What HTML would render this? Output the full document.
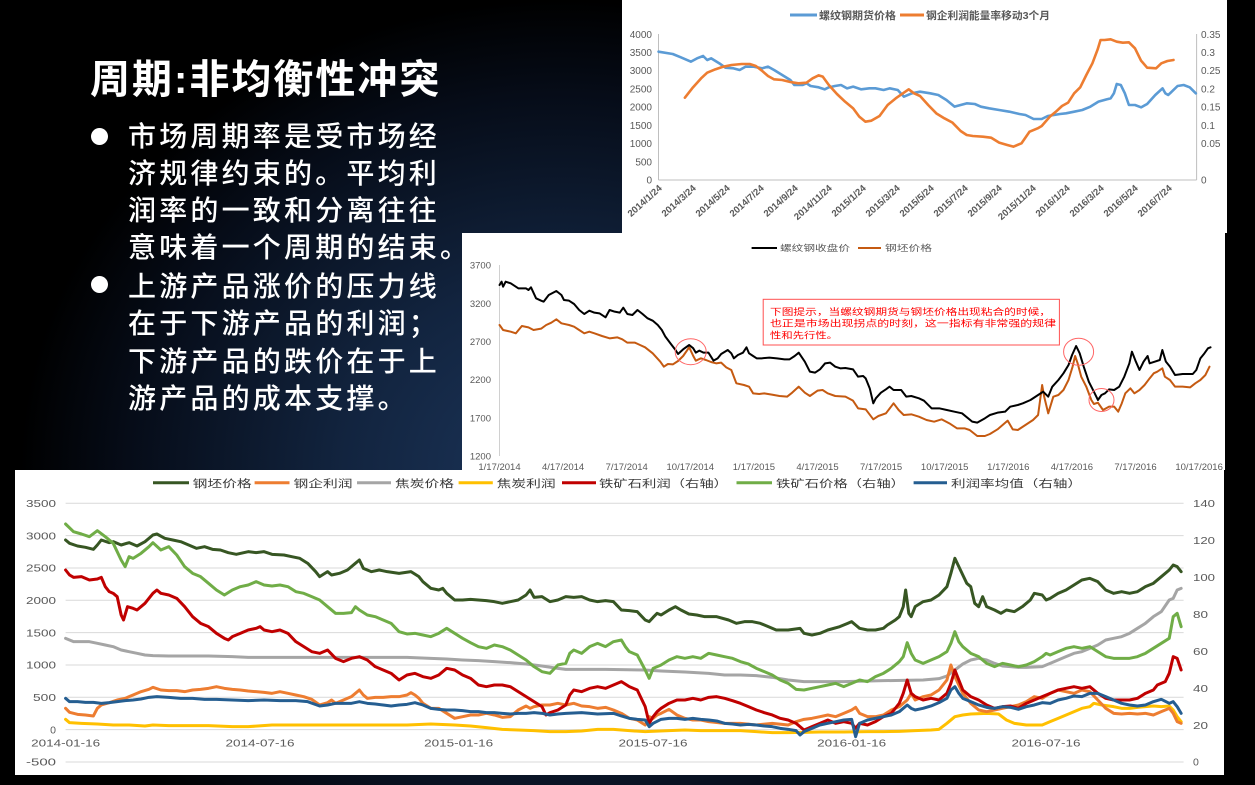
<!DOCTYPE html>
<html><head><meta charset="utf-8">
<style>
html,body{margin:0;padding:0;}
body{width:1255px;height:785px;overflow:hidden;position:relative;
background:#000;
background-image:radial-gradient(ellipse 540px 470px at 560px 470px,#1c355a 0%,#12243f 40%,#060c18 80%,#000 100%);
font-family:"Liberation Sans","Noto Sans CJK SC",sans-serif;}
.t{position:absolute;color:#fff;white-space:nowrap;font-family:"Liberation Sans","Noto Sans CJK SC",sans-serif;}
.title{left:90px;top:60px;font-size:40px;line-height:40px;font-weight:bold;letter-spacing:2px;}
.l{left:128px;font-size:28px;line-height:37px;letter-spacing:3.2px;font-weight:500;}
.dot{position:absolute;width:17px;height:17px;border-radius:50%;background:#fff;left:91px;}
svg{position:absolute;left:0;top:0;}
svg text{font-family:"Liberation Sans","Noto Sans CJK SC",sans-serif;}
.vl{fill:none;vector-effect:non-scaling-stroke;stroke-linejoin:round;stroke-linecap:round;}
</style></head><body>
<div class="t title">周期:非均衡性冲突</div>
<div class="dot" style="top:128px"></div>
<div class="t l" style="top:118px">市场周期率是受市场经</div>
<div class="t l" style="top:155px">济规律约束的。平均利</div>
<div class="t l" style="top:192px">润率的一致和分离往往</div>
<div class="t l" style="top:229px">意味着一个周期的结束。</div>
<div class="dot" style="top:276px"></div>
<div class="t l" style="top:268px">上游产品涨价的压力线</div>
<div class="t l" style="top:305px">在于下游产品的利润；</div>
<div class="t l" style="top:343px">下游产品的跌价在于上</div>
<div class="t l" style="top:380px">游产品的成本支撑。</div>

<svg width="1255" height="785" viewBox="0 0 1255 785">
<!-- ===== TOP RIGHT CHART ===== -->
<rect x="622" y="0" width="605" height="233" fill="#fff"/>
<line x1="790" y1="15" x2="817" y2="15" stroke="#5b9bd5" stroke-width="3"/>
<text x="819" y="19" font-size="10.5" fill="#595959" textLength="77" lengthAdjust="spacingAndGlyphs" font-weight="bold">螺纹钢期货价格</text>
<line x1="900" y1="15" x2="924" y2="15" stroke="#ed7d31" stroke-width="3"/>
<text x="926" y="19" font-size="10.5" fill="#595959" textLength="124" lengthAdjust="spacingAndGlyphs" font-weight="bold">钢企利润能量率移动3个月</text>
<g stroke="#bfbfbf" stroke-width="1">
<line x1="658.5" y1="34" x2="658.5" y2="180"/>
<line x1="1196.6" y1="34" x2="1196.6" y2="180"/>
<line x1="658.5" y1="180" x2="1196.6" y2="180"/>
</g>
<g font-size="10" fill="#595959" text-anchor="end">
<text x="652" y="37.8">4000</text><text x="652" y="56">3500</text><text x="652" y="74.2">3000</text><text x="652" y="92.4">2500</text><text x="652" y="110.6">2000</text><text x="652" y="128.9">1500</text><text x="652" y="147.1">1000</text><text x="652" y="165.3">500</text><text x="652" y="183.5">0</text>
</g>
<g font-size="10" fill="#595959">
<text x="1201" y="37.8">0.35</text><text x="1201" y="56">0.3</text><text x="1201" y="74.2">0.25</text><text x="1201" y="92.4">0.2</text><text x="1201" y="110.6">0.15</text><text x="1201" y="128.9">0.1</text><text x="1201" y="147.1">0.05</text><text x="1201" y="183.5">0</text>
</g>
<g font-size="9.5" fill="#595959" font-weight="bold" text-anchor="end">
<text transform="translate(662.5,189) rotate(-42)">2014/1/24</text>
<text transform="translate(696.5,189) rotate(-42)">2014/3/24</text>
<text transform="translate(730.5,189) rotate(-42)">2014/5/24</text>
<text transform="translate(764.5,189) rotate(-42)">2014/7/24</text>
<text transform="translate(798.5,189) rotate(-42)">2014/9/24</text>
<text transform="translate(832.5,189) rotate(-42)">2014/11/24</text>
<text transform="translate(866.5,189) rotate(-42)">2015/1/24</text>
<text transform="translate(900.5,189) rotate(-42)">2015/3/24</text>
<text transform="translate(934.5,189) rotate(-42)">2015/5/24</text>
<text transform="translate(968.5,189) rotate(-42)">2015/7/24</text>
<text transform="translate(1002.5,189) rotate(-42)">2015/9/24</text>
<text transform="translate(1036.5,189) rotate(-42)">2015/11/24</text>
<text transform="translate(1070.5,189) rotate(-42)">2016/1/24</text>
<text transform="translate(1104.5,189) rotate(-42)">2016/3/24</text>
<text transform="translate(1138.5,189) rotate(-42)">2016/5/24</text>
<text transform="translate(1172.5,189) rotate(-42)">2016/7/24</text>
</g>
<g transform="translate(620,0) scale(0.4055,0.33333)">
<polyline class="vl" stroke="#5b9bd5" stroke-width="2.6" points="95,155 130,162 150,172 175,185 190,175 205,168 215,180 225,175 245,190 260,203 280,205 295,210 310,200 330,200 350,205 365,200 380,210 400,225 420,240 430,255 450,255 460,250 470,258 490,262 505,268 515,262 530,258 545,255 560,265 575,260 595,268 615,265 630,265 650,270 665,265 685,270 700,290 720,280 740,275 765,280 785,285 805,300 825,320 840,315 855,310 875,312 890,320 910,325 935,330 960,335 985,342 1000,345 1020,357 1040,357 1055,348 1070,345 1085,342 1100,340 1120,335 1140,330 1160,320 1180,305 1200,298 1210,295 1218,280 1225,252 1235,255 1245,280 1255,315 1270,315 1285,322 1300,312 1320,285 1338,265 1345,280 1352,285 1358,278 1375,258 1390,255 1405,262 1420,280"/>
<polyline class="vl" stroke="#ed7d31" stroke-width="2.6" points="160,293 180,262 200,235 215,218 235,208 255,200 275,195 300,192 320,192 335,198 350,212 365,228 380,238 400,240 420,246 440,250 460,248 475,235 490,226 500,230 515,255 535,282 555,305 575,325 590,350 605,365 620,362 640,348 660,315 680,295 700,278 712,268 725,280 740,288 760,315 780,340 800,355 820,368 840,393 855,405 870,408 895,410 915,413 935,428 955,435 970,440 990,430 1010,395 1030,385 1040,378 1060,350 1075,335 1090,318 1105,308 1120,280 1135,262 1150,225 1165,190 1178,148 1185,120 1195,120 1210,118 1225,125 1240,128 1255,127 1270,145 1285,182 1300,203 1322,205 1335,190 1350,183 1365,180"/>
</g>

<!-- ===== MIDDLE CHART ===== -->
<rect x="462" y="233" width="763" height="237" fill="#fff"/>
<line x1="751.6" y1="248" x2="777" y2="248" stroke="#000" stroke-width="2"/>
<text x="780" y="251" font-size="8.5" fill="#595959" textLength="70" lengthAdjust="spacingAndGlyphs">螺纹钢收盘价</text>
<line x1="858" y1="248" x2="881" y2="248" stroke="#c55a11" stroke-width="2"/>
<text x="885" y="251" font-size="8.5" fill="#595959" textLength="47" lengthAdjust="spacingAndGlyphs">钢坯价格</text>
<line x1="499.5" y1="265" x2="499.5" y2="456" stroke="#d0d0d0" stroke-width="1"/>
<g font-size="9.5" fill="#595959" text-anchor="end">
<text x="491" y="268.5">3700</text><text x="491" y="306.8">3200</text><text x="491" y="345">2700</text><text x="491" y="383.2">2200</text><text x="491" y="421.4">1700</text><text x="491" y="459.5">1200</text>
</g>
<g font-size="9.5" fill="#595959" text-anchor="middle">
<text x="499.5" y="470">1/17/2014</text><text x="563.1" y="470">4/17/2014</text><text x="626.7" y="470">7/17/2014</text><text x="690.3" y="470">10/17/2014</text><text x="753.9" y="470">1/17/2015</text><text x="817.5" y="470">4/17/2015</text><text x="881.1" y="470">7/17/2015</text><text x="944.7" y="470">10/17/2015</text><text x="1008.3" y="470">1/17/2016</text><text x="1071.9" y="470">4/17/2016</text><text x="1135.5" y="470">7/17/2016</text><text x="1199.1" y="470">10/17/2016</text>
</g>
<g transform="translate(460,230) scale(0.5071,0.33333)">
<polyline class="vl" stroke="#c55a11" stroke-width="2" points="78,285 85,300 100,305 110,310 122,288 135,292 145,300 160,296 170,285 180,278 190,268 200,280 215,285 225,290 235,300 245,310 255,305 265,310 280,318 295,325 310,322 320,328 330,338 345,338 355,345 365,352 380,370 395,395 402,410 410,402 420,403 430,393 440,378 452,352 460,378 465,392 475,385 485,390 495,396 505,400 515,398 525,412 535,420 545,460 560,465 570,470 578,490 590,492 600,490 615,494 630,498 645,500 655,488 668,470 680,488 690,498 705,482 715,480 725,490 740,498 760,500 775,512 785,535 800,538 815,568 825,558 840,550 855,520 865,540 875,555 890,553 905,560 920,570 935,575 950,568 965,580 980,595 995,595 1005,600 1020,618 1035,618 1045,612 1060,598 1080,572 1090,598 1100,600 1115,585 1130,570 1140,555 1148,465 1152,500 1160,550 1170,500 1180,495 1190,480 1200,450 1208,410 1213,378 1218,400 1225,440 1235,470 1245,510 1250,522 1258,518 1268,540 1280,530 1290,530 1298,545 1305,520 1312,490 1322,475 1330,490 1340,480 1350,465 1360,445 1368,430 1375,425 1385,415 1390,440 1400,450 1410,470 1425,470 1440,472 1450,460 1460,450 1470,435 1478,410"/>
<polyline class="vl" stroke="#000" stroke-width="2" points="78,165 82,155 85,170 90,155 100,160 115,175 130,175 135,180 140,172 150,205 160,212 165,215 175,195 190,183 200,195 205,210 215,212 225,222 235,240 245,252 255,242 265,248 275,250 287,262 295,240 305,245 315,248 322,233 330,252 340,255 350,240 360,252 370,265 380,272 390,285 398,300 405,320 415,340 425,360 430,372 440,358 452,345 460,355 465,368 472,362 480,368 490,368 500,392 508,385 515,372 528,360 535,370 540,385 548,375 558,368 565,352 570,370 578,378 585,385 595,385 610,383 625,385 640,388 650,388 660,378 668,368 680,395 690,425 700,428 710,418 720,400 730,398 740,410 750,415 760,414 775,418 785,440 795,438 800,445 808,475 815,520 820,505 830,488 840,478 847,470 855,480 870,480 880,500 890,498 905,505 915,512 930,535 945,535 960,540 975,545 990,550 1010,575 1020,578 1035,565 1045,555 1060,548 1075,545 1085,530 1100,525 1110,520 1125,510 1140,495 1150,485 1160,500 1168,470 1180,450 1190,430 1200,405 1207,375 1215,348 1222,370 1230,410 1240,455 1250,485 1258,510 1265,495 1272,490 1280,478 1290,480 1300,470 1310,440 1320,400 1325,365 1332,392 1340,420 1348,395 1356,378 1360,400 1370,395 1380,390 1385,360 1392,395 1400,410 1410,435 1425,432 1445,432 1452,420 1460,385 1468,370 1475,355 1480,352"/>
</g>
<ellipse cx="690.7" cy="351.7" rx="15.5" ry="13" fill="none" stroke="#ff6666" stroke-width="1"/>
<ellipse cx="1078.6" cy="351.7" rx="15" ry="13.5" fill="none" stroke="#ff6666" stroke-width="1"/>
<ellipse cx="1101.5" cy="400" rx="12.5" ry="11.5" fill="none" stroke="#ff6666" stroke-width="1"/>
<rect x="763.2" y="299.3" width="296.2" height="45.7" fill="#fff" stroke="#ff5050" stroke-width="1"/>
<g font-size="9" fill="#ff0000">
<text x="770" y="315" textLength="281" lengthAdjust="spacingAndGlyphs">下图提示，当螺纹钢期货与钢坯价格出现粘合的时候，</text>
<text x="770" y="326.7" textLength="286" lengthAdjust="spacingAndGlyphs">也正是市场出现拐点的时刻，这一指标有非常强的规律</text>
<text x="770" y="338.3" textLength="68" lengthAdjust="spacingAndGlyphs">性和先行性。</text>
</g>

<!-- ===== BOTTOM CHART ===== -->
<rect x="15" y="470" width="1209" height="305" fill="#fff"/>
<g stroke="#d9d9d9" stroke-width="1">
<line x1="65.6" y1="503.3" x2="1183.6" y2="503.3"/><line x1="65.6" y1="535.6" x2="1183.6" y2="535.6"/><line x1="65.6" y1="568" x2="1183.6" y2="568"/><line x1="65.6" y1="600.3" x2="1183.6" y2="600.3"/><line x1="65.6" y1="632.6" x2="1183.6" y2="632.6"/><line x1="65.6" y1="665" x2="1183.6" y2="665"/><line x1="65.6" y1="697.3" x2="1183.6" y2="697.3"/><line x1="65.6" y1="729.6" x2="1183.6" y2="729.6"/><line x1="65.6" y1="762" x2="1183.6" y2="762"/>
</g>
<g font-size="10.5" fill="#3a3a3a">
<line x1="153" y1="482.7" x2="189" y2="482.7" stroke="#375623" stroke-width="3"/>
<text x="192.6" y="486.8" textLength="59" lengthAdjust="spacingAndGlyphs">钢坯价格</text>
<line x1="254.6" y1="482.7" x2="289.5" y2="482.7" stroke="#ed7d31" stroke-width="3"/>
<text x="293.5" y="486.8" textLength="59" lengthAdjust="spacingAndGlyphs">钢企利润</text>
<line x1="357" y1="482.7" x2="391" y2="482.7" stroke="#a5a5a5" stroke-width="3"/>
<text x="395" y="486.8" textLength="59" lengthAdjust="spacingAndGlyphs">焦炭价格</text>
<line x1="458.6" y1="482.7" x2="492.8" y2="482.7" stroke="#ffc000" stroke-width="3"/>
<text x="496.7" y="486.8" textLength="59" lengthAdjust="spacingAndGlyphs">焦炭利润</text>
<line x1="562" y1="482.7" x2="596" y2="482.7" stroke="#c00000" stroke-width="3"/>
<text x="599" y="486.8" textLength="129" lengthAdjust="spacingAndGlyphs">铁矿石利润（右轴）</text>
<line x1="736.5" y1="482.7" x2="772" y2="482.7" stroke="#70ad47" stroke-width="3"/>
<text x="776" y="486.8" textLength="129" lengthAdjust="spacingAndGlyphs">铁矿石价格（右轴）</text>
<line x1="913.6" y1="482.7" x2="947" y2="482.7" stroke="#255e91" stroke-width="3"/>
<text x="951" y="486.8" textLength="131" lengthAdjust="spacingAndGlyphs">利润率均值（右轴）</text>
</g>
<g font-size="10.5" fill="#595959" text-anchor="end">
<text x="56" y="507" textLength="30" lengthAdjust="spacingAndGlyphs">3500</text><text x="56" y="539.3" textLength="30" lengthAdjust="spacingAndGlyphs">3000</text><text x="56" y="571.7" textLength="30" lengthAdjust="spacingAndGlyphs">2500</text><text x="56" y="604" textLength="30" lengthAdjust="spacingAndGlyphs">2000</text><text x="56" y="636.3" textLength="30" lengthAdjust="spacingAndGlyphs">1500</text><text x="56" y="668.7" textLength="30" lengthAdjust="spacingAndGlyphs">1000</text><text x="56" y="701" textLength="23" lengthAdjust="spacingAndGlyphs">500</text><text x="56" y="733.3">0</text><text x="56" y="765.7" textLength="30" lengthAdjust="spacingAndGlyphs">-500</text>
</g>
<g font-size="10.5" fill="#595959">
<text x="1193" y="507" textLength="22" lengthAdjust="spacingAndGlyphs">140</text><text x="1193" y="544" textLength="22" lengthAdjust="spacingAndGlyphs">120</text><text x="1193" y="581" textLength="22" lengthAdjust="spacingAndGlyphs">100</text><text x="1193" y="618" textLength="15" lengthAdjust="spacingAndGlyphs">80</text><text x="1193" y="655" textLength="15" lengthAdjust="spacingAndGlyphs">60</text><text x="1193" y="692" textLength="15" lengthAdjust="spacingAndGlyphs">40</text><text x="1193" y="729" textLength="15" lengthAdjust="spacingAndGlyphs">20</text><text x="1193" y="765.7">0</text>
</g>
<g font-size="10" fill="#595959" text-anchor="middle">
<text x="65.6" y="746.5" textLength="69" lengthAdjust="spacingAndGlyphs">2014-01-16</text>
<text x="260" y="746.5" textLength="69" lengthAdjust="spacingAndGlyphs">2014-07-16</text>
<text x="458.6" y="746.5" textLength="69" lengthAdjust="spacingAndGlyphs">2015-01-16</text>
<text x="653" y="746.5" textLength="69" lengthAdjust="spacingAndGlyphs">2015-07-16</text>
<text x="851.7" y="746.5" textLength="69" lengthAdjust="spacingAndGlyphs">2016-01-16</text>
<text x="1046" y="746.5" textLength="69" lengthAdjust="spacingAndGlyphs">2016-07-16</text>
</g>
<g transform="translate(10,460) scale(0.794,0.33333)">
<polyline class="vl" stroke="#ffc000" stroke-width="3" points="70,778 75,788 90,790 110,792 130,795 150,795 170,798 180,795 200,797 250,797 280,800 300,800 330,795 380,795 430,795 500,795 530,792 560,795 580,798 600,803 620,808 640,810 660,812 680,815 700,815 720,813 740,808 760,808 780,812 800,815 830,812 850,810 870,812 900,812 920,812 940,815 960,818 980,818 1000,817 1020,816 1050,816 1080,815 1100,815 1120,814 1140,812 1160,810 1170,808 1180,790 1190,770 1200,765 1210,762 1230,760 1245,762 1255,780 1265,790 1280,795 1300,795 1310,785 1320,775 1335,760 1350,745 1360,740 1365,730 1375,735 1390,740 1400,745 1410,745 1420,742 1430,740 1440,738 1450,740 1460,738 1465,750 1470,770 1475,785"/>
<polyline class="vl" stroke="#a5a5a5" stroke-width="3" points="70,535 80,545 90,545 100,545 110,550 120,555 130,560 140,570 150,575 160,580 170,585 180,587 200,588 250,588 280,590 300,592 350,592 400,592 450,592 500,592 530,595 550,597 570,600 590,602 610,605 630,608 650,612 670,618 690,625 700,628 750,628 800,630 820,633 850,636 880,640 900,645 920,645 940,647 960,652 980,660 1000,665 1050,665 1100,662 1150,660 1170,656 1180,648 1190,630 1200,612 1210,600 1220,595 1230,600 1240,610 1250,618 1260,620 1270,622 1280,622 1300,620 1310,610 1320,600 1330,590 1340,580 1350,575 1360,565 1370,555 1380,540 1390,535 1400,530 1410,520 1420,505 1430,490 1440,470 1450,455 1460,420 1465,415 1470,390 1475,385"/>
<polyline class="vl" stroke="#ed7d31" stroke-width="3" points="70,745 75,757 85,763 95,765 105,768 110,745 115,735 125,728 135,720 145,715 155,705 165,695 175,688 180,682 190,690 200,692 210,692 220,695 230,690 240,688 250,685 260,680 270,685 280,688 290,690 300,693 310,695 320,697 330,700 340,695 350,700 360,705 370,710 380,718 390,735 400,728 405,720 410,730 420,720 430,710 440,690 445,705 450,715 460,712 470,712 480,710 490,710 500,705 505,698 510,705 515,715 520,730 530,745 540,745 550,760 560,775 570,770 580,765 590,765 600,760 610,765 620,772 630,770 640,750 650,738 655,745 660,740 670,735 680,735 690,730 700,735 710,730 720,738 730,740 740,745 750,742 760,750 770,760 780,775 790,780 800,795 805,770 810,775 815,765 820,760 830,748 840,765 850,775 860,780 870,780 880,785 900,790 920,790 940,795 960,790 980,795 990,785 1000,778 1010,775 1020,770 1030,765 1040,770 1050,760 1060,750 1065,742 1070,760 1080,770 1090,770 1100,765 1110,750 1120,740 1130,720 1135,700 1140,720 1150,710 1160,705 1170,690 1180,660 1185,615 1190,650 1200,700 1210,730 1220,750 1230,755 1240,750 1250,745 1260,740 1270,735 1280,725 1290,710 1300,715 1310,700 1320,690 1330,695 1340,700 1350,690 1360,695 1370,720 1380,745 1390,760 1400,762 1410,760 1420,762 1430,760 1440,765 1450,755 1460,745 1465,760 1470,785 1475,790"/>
<polyline class="vl" stroke="#375623" stroke-width="3" points="70,240 75,250 85,258 95,262 105,268 110,255 115,240 125,248 130,245 140,255 150,248 160,258 170,245 180,225 185,222 195,235 205,240 215,245 225,255 235,265 245,260 255,268 265,270 275,278 285,283 300,275 310,278 320,275 330,283 345,285 355,290 365,295 375,310 385,335 390,350 400,335 405,345 415,340 425,330 435,310 440,300 445,325 455,335 465,330 475,335 490,340 505,335 515,350 520,365 530,385 540,390 545,385 550,400 560,420 570,420 580,418 590,420 600,422 610,425 620,430 630,425 640,420 650,405 655,390 660,412 670,410 680,425 690,420 700,410 710,412 720,410 730,420 740,425 750,422 760,425 770,450 780,452 790,455 800,480 805,485 810,472 815,460 820,465 830,450 838,440 845,450 855,462 865,465 875,470 890,470 905,480 915,490 925,485 935,485 945,490 955,500 965,510 980,510 995,505 1000,520 1010,525 1020,520 1030,510 1045,500 1055,490 1060,485 1065,495 1070,505 1080,510 1090,510 1100,505 1105,495 1115,480 1120,470 1125,440 1128,390 1132,460 1135,470 1140,440 1150,425 1160,420 1170,405 1180,380 1185,340 1190,295 1195,320 1200,345 1205,370 1210,380 1215,430 1220,440 1225,410 1230,440 1240,450 1248,460 1255,450 1265,455 1275,440 1285,420 1290,400 1300,405 1305,420 1310,415 1320,400 1330,390 1340,375 1350,360 1360,355 1370,365 1380,390 1390,400 1400,395 1410,400 1420,395 1430,380 1440,370 1450,350 1460,330 1465,315 1470,320 1475,335"/>
<polyline class="vl" stroke="#c00000" stroke-width="3" points="70,330 75,345 80,352 90,350 100,360 110,357 115,352 120,380 125,395 130,400 135,410 140,465 143,480 148,440 155,445 160,450 170,430 180,400 185,390 190,400 200,405 210,415 220,440 230,470 240,490 250,500 260,520 270,535 275,540 280,530 290,520 300,510 310,505 315,500 320,510 330,515 340,510 350,520 360,545 370,560 380,575 390,580 400,570 410,595 420,605 430,595 440,590 450,600 460,620 470,630 480,640 490,660 500,645 510,640 520,650 530,655 540,645 550,625 560,630 570,645 580,655 590,675 600,680 610,675 620,675 630,680 640,695 650,710 660,725 670,740 675,765 680,758 690,750 700,735 705,705 710,690 720,695 730,685 740,680 750,685 760,675 770,665 780,680 790,690 800,740 805,790 810,770 815,755 820,745 830,730 840,720 850,720 860,715 870,720 880,712 890,710 900,715 910,722 920,730 930,740 940,750 950,758 960,765 970,775 980,780 990,790 1000,810 1005,805 1010,800 1020,790 1030,780 1040,790 1050,785 1060,790 1065,805 1070,790 1080,795 1090,785 1100,770 1110,760 1120,730 1125,700 1130,660 1135,700 1140,710 1150,720 1160,715 1170,720 1180,700 1185,670 1190,630 1195,660 1200,690 1210,710 1220,720 1230,735 1240,745 1250,740 1260,738 1270,745 1280,730 1290,720 1300,710 1310,700 1320,690 1330,685 1340,680 1350,685 1360,680 1370,700 1380,715 1390,720 1400,720 1410,720 1420,715 1430,700 1440,690 1445,675 1455,665 1460,640 1465,590 1470,595 1475,630"/>
<polyline class="vl" stroke="#70ad47" stroke-width="3" points="70,192 80,215 90,222 100,230 110,212 120,230 130,250 140,300 145,320 150,290 155,295 165,280 175,260 180,248 190,270 200,260 210,285 220,320 230,340 240,350 250,370 260,390 270,405 280,390 290,380 300,375 310,365 320,375 330,378 340,375 350,380 360,395 370,400 380,410 390,420 400,440 410,460 420,460 430,458 435,440 440,450 450,465 460,470 470,480 480,490 490,515 500,522 510,520 520,525 530,530 540,520 550,505 560,520 570,535 580,548 590,560 600,565 610,555 620,560 630,570 640,585 650,600 660,620 670,635 680,640 690,615 700,610 705,580 710,570 720,580 730,560 740,550 750,560 760,545 770,540 775,560 780,575 790,585 800,630 805,655 810,625 820,615 830,600 840,590 850,595 860,590 870,595 880,580 890,585 900,590 910,595 920,605 930,612 940,625 950,635 960,645 970,660 980,670 990,688 1000,690 1010,685 1020,680 1030,675 1040,670 1050,680 1060,670 1070,660 1080,665 1090,650 1100,640 1110,625 1120,605 1125,590 1130,548 1135,580 1140,600 1150,610 1160,600 1170,590 1180,575 1185,550 1190,515 1195,545 1200,560 1210,580 1220,590 1230,610 1240,620 1250,610 1260,615 1270,620 1280,615 1290,605 1300,590 1305,580 1310,585 1320,575 1330,565 1340,560 1350,565 1360,560 1370,575 1380,590 1390,595 1400,595 1410,595 1420,590 1430,580 1440,565 1450,550 1460,535 1465,470 1470,460 1475,500"/>
<polyline class="vl" stroke="#255e91" stroke-width="3" points="70,715 75,725 85,725 95,727 105,727 115,730 125,728 135,725 145,722 155,720 165,717 175,712 185,710 200,712 215,715 230,715 245,718 260,718 280,720 300,722 320,720 340,722 360,722 375,725 390,738 400,735 410,730 420,730 430,730 440,725 450,730 460,732 470,735 480,738 490,735 500,733 510,728 520,735 530,745 540,748 550,750 560,750 570,752 580,755 590,755 600,758 610,758 620,760 630,762 640,760 650,760 660,758 670,760 680,765 690,762 700,760 720,758 740,762 760,760 770,768 780,775 790,778 800,780 805,800 810,790 820,778 830,775 840,775 850,778 860,775 870,778 880,780 890,783 900,790 910,792 920,795 930,793 940,795 950,798 960,800 970,805 980,808 990,812 995,825 1000,815 1010,805 1020,795 1030,790 1040,785 1050,780 1060,778 1065,830 1070,790 1080,780 1090,775 1100,770 1110,765 1120,755 1130,735 1135,745 1140,750 1150,745 1160,738 1170,728 1180,715 1185,690 1190,680 1195,700 1200,715 1210,725 1220,735 1230,742 1240,745 1250,740 1260,742 1270,748 1280,740 1290,735 1300,728 1310,730 1320,720 1330,715 1340,708 1350,710 1360,700 1370,700 1380,710 1390,720 1400,730 1410,735 1420,738 1430,735 1440,725 1450,718 1460,730 1465,725 1470,740 1475,760"/>
</g>
</svg>
</body></html>
